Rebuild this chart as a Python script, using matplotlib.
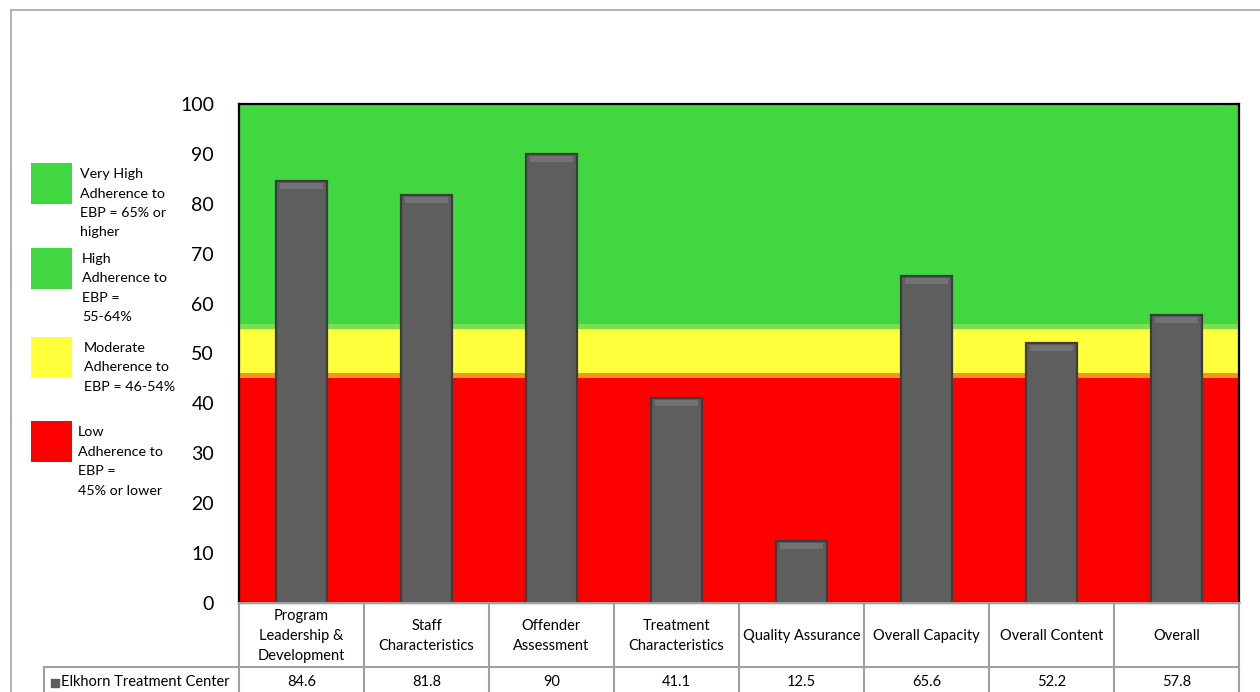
import matplotlib.pyplot as plt
from matplotlib.patches import Rectangle
from matplotlib.lines import Line2D

plt.rcParams['font.family'] = ['Lato', 'DejaVu Sans']

categories = ["Program\nLeadership &\nDevelopment", "Staff\nCharacteristics",
              "Offender\nAssessment", "Treatment\nCharacteristics",
              "Quality Assurance", "Overall Capacity", "Overall Content", "Overall"]
scores = [84.6, 81.8, 90, 41.1, 12.5, 65.6, 52.2, 57.8]
score_labels = ["84.6", "81.8", "90", "41.1", "12.5", "65.6", "52.2", "57.8"]
series_name = "Elkhorn Treatment Center"

# background bands: (low, high, colour)
bands = [(0, 45, "#ff0000"), (45, 46, "#f7941d"), (46, 55, "#ffff3b"),
         (55, 56, "#7ae04a"), (56, 100, "#41d741")]

legend_items = [("Very High\nAdherence to\nEBP = 65% or\nhigher", "#41d741"),
                ("High\nAdherence to\nEBP =\n55-64%", "#41d741"),
                ("Moderate\nAdherence to\nEBP = 46-54%", "#ffff3b"),
                ("Low\nAdherence to\nEBP =\n45% or lower", "#ff0000")]

W, H = 1260, 692
fig = plt.figure(figsize=(12.6, 6.92), dpi=100)


def fx(px):
    return px / W


def fy(py):
    return 1 - py / H


ax = fig.add_axes([fx(239), fy(603), fx(1239) - fx(239), fy(104) - fy(603)])
for lo, hi, c in bands:
    ax.axhspan(lo, hi, color=c, zorder=0, lw=0)

x = list(range(len(scores)))
ax.bar(x, scores, width=0.41, color="#5e5e5e", edgecolor="#3c3c3c", linewidth=1.6, zorder=3)
# soft top bevel
ax.bar(x, [1.2] * len(scores), bottom=[s - 1.6 for s in scores], width=0.34,
       color="#727272", linewidth=0, zorder=4)

ax.set_xlim(-0.5, len(scores) - 0.5)
ax.set_ylim(0, 100)
ax.set_yticks(range(0, 101, 10))
ax.tick_params(axis='y', length=0, pad=18, labelsize=14)
ax.set_xticks([])
for s in ax.spines.values():
    s.set_color("black")
    s.set_linewidth(1.6)

# outer chart frame
grey = "#a6a6a6"
fig.add_artist(Line2D([fx(11), fx(11)], [fy(10), 0], color=grey, lw=1.2))
fig.add_artist(Line2D([fx(11), 1], [fy(10), fy(10)], color=grey, lw=1.2))

# data table
cell_w = (1239 - 239) / len(scores)
tline = "#a0a0a0"
fig.add_artist(Line2D([fx(239), fx(1239)], [fy(603), fy(603)], color=tline, lw=1.5))
fig.add_artist(Line2D([fx(44), fx(1239)], [fy(667), fy(667)], color=tline, lw=1.5))
fig.add_artist(Line2D([fx(44), fx(44)], [fy(667), 0], color=tline, lw=1.5))
for i in range(len(scores) + 1):
    xp = 239 + i * cell_w
    fig.add_artist(Line2D([fx(xp), fx(xp)], [fy(603), 0], color=tline, lw=1.5))
for i, (cat, lab) in enumerate(zip(categories, score_labels)):
    xc = 239 + (i + 0.5) * cell_w
    fig.text(fx(xc), fy(636), cat, ha="center", va="center", fontsize=10.5,
             linespacing=1.55)
    fig.text(fx(xc), fy(682), lab, ha="center", va="center", fontsize=10.5)
fig.add_artist(Rectangle((fx(51), fy(687)), fx(8), fy(679) - fy(687), color="#5e5e5e"))
fig.text(fx(61), fy(682), series_name, ha="left", va="center", fontsize=10.5)

# legend at left
box_tops = [163, 248, 337, 421]
text_x = [80, 82, 84, 78]
for (txt, c), top, tx in zip(legend_items, box_tops, text_x):
    fig.add_artist(Rectangle((fx(31), fy(top + 41)), fx(41), fy(top) - fy(top + 41),
                             color=c, lw=0))
    fig.text(fx(tx), fy(top + 5), txt, ha="left", va="top", fontsize=10.3,
             linespacing=1.75)

fig.savefig("out.png", dpi=100)
